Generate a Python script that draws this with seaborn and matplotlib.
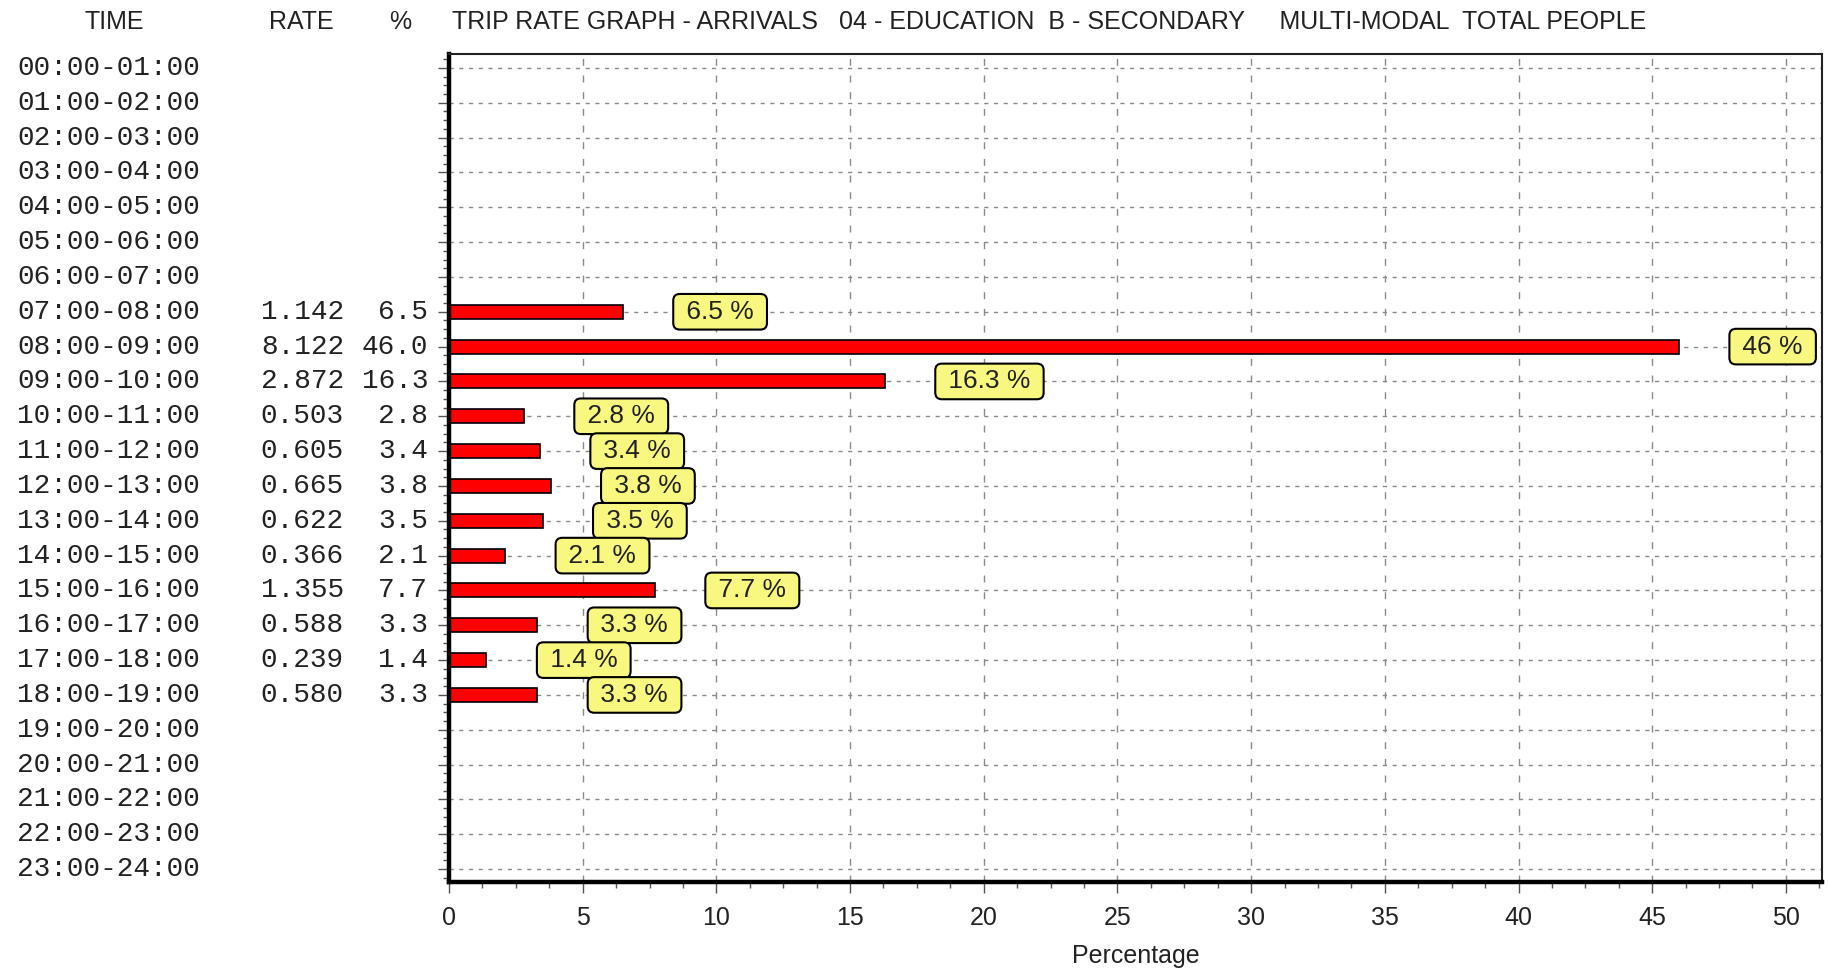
import numpy as np
import matplotlib
matplotlib.use("Agg")
import matplotlib.pyplot as plt
from matplotlib.ticker import MultipleLocator
import pandas as pd
import seaborn as sns

# hourly slots shown on the chart
times = ['%02d:00-%02d:00' % (h, h + 1) for h in range(24)]

# slots that have data
data_times = ['07:00-08:00', '08:00-09:00', '09:00-10:00', '10:00-11:00',
              '11:00-12:00', '12:00-13:00', '13:00-14:00', '14:00-15:00',
              '15:00-16:00', '16:00-17:00', '17:00-18:00', '18:00-19:00']
rates = [1.142, 8.122, 2.872, 0.503, 0.605, 0.665, 0.622, 0.366,
         1.355, 0.588, 0.239, 0.580]
percents = [6.5, 46.0, 16.3, 2.8, 3.4, 3.8, 3.5, 2.1, 7.7, 3.3, 1.4, 3.3]

title = ('TRIP RATE GRAPH - ARRIVALS   04 - EDUCATION  B - SECONDARY'
         '     MULTI-MODAL  TOTAL PEOPLE')

MONO = 'Liberation Mono'
SANS = ['Liberation Sans']

W, H = 1828, 968


def main():
    sns.set_style('white')
    plt.rcParams['font.family'] = SANS

    df = pd.DataFrame({'time': data_times, 'rate': rates, 'pct': percents})

    fig = plt.figure(figsize=(W / 100, H / 100), dpi=100)
    ax = fig.add_axes([449 / W, 1 - 882 / H, (1822 - 449) / W, (882 - 54) / H])

    sns.barplot(data=df, x='pct', y='time', order=times, orient='h',
                color='#FF0000', saturation=1, edgecolor='black',
                linewidth=1.2, width=0.4, ax=ax)

    ax.set_xlim(0, 51.35)
    ax.set_ylim(23.37, -0.40)

    # grid
    ax.set_axisbelow(True)
    ax.xaxis.set_major_locator(MultipleLocator(5))
    ax.xaxis.set_minor_locator(MultipleLocator(1.25))
    ax.yaxis.set_minor_locator(MultipleLocator(0.25))
    ax.grid(True, axis='x', which='major', color='#8a8a8a',
            linestyle=(0, (5, 7)), linewidth=1)
    ax.grid(True, axis='y', which='major', color='#8a8a8a',
            linestyle=(0, (3, 4)), linewidth=1)

    # spines
    for s in ['left', 'bottom']:
        ax.spines[s].set_linewidth(3.2)
        ax.spines[s].set_color('black')
    for s in ['top', 'right']:
        ax.spines[s].set_linewidth(1.5)
        ax.spines[s].set_color('#222222')

    # ticks
    ax.tick_params(axis='both', which='major', direction='out', length=8,
                   width=1, color='#555555', left=True, bottom=True)
    ax.tick_params(axis='both', which='minor', direction='out', length=4,
                   width=1, color='#555555', left=True, bottom=True)
    ax.tick_params(axis='x', which='major', labelsize=18, pad=9,
                   labelcolor='#222222')
    ax.tick_params(axis='y', which='major', labelsize=20, pad=7,
                   labelcolor='#222222')

    pct_col = []
    for t in times:
        if t in data_times:
            pct_col.append('%.1f' % percents[data_times.index(t)])
        else:
            pct_col.append('')
    ax.set_yticks(range(len(times)))
    ax.set_yticklabels(pct_col, family=MONO, va='center')
    ax.set_ylabel('')
    ax.set_xlabel('Percentage', fontsize=18, labelpad=10, color='#222222')

    # time and rate columns
    tr = ax.get_yaxis_transform()
    for i, t in enumerate(times):
        ax.text(-0.3146, i, t, transform=tr, ha='left', va='center',
                family=MONO, fontsize=20, color='#222222')
    for t, r in zip(data_times, rates):
        ax.text(-0.0765, times.index(t), '%.3f' % r, transform=tr,
                ha='right', va='center', family=MONO, fontsize=20,
                color='#222222')

    # value boxes
    for t, p in zip(data_times, percents):
        ax.annotate(' %g %% ' % p, xy=(p, times.index(t)),
                    xytext=(40.5, 0), textcoords='offset points',
                    ha='left', va='center', fontsize=19, color='#222222',
                    bbox=dict(boxstyle='round,pad=0.22,rounding_size=0.25',
                              facecolor='#F8F880', edgecolor='black',
                              linewidth=1.5))

    # header row
    y_head = 1 - 22 / H
    fig.text(114 / W, y_head, 'TIME', ha='center', va='center', fontsize=18,
             color='#222222')
    fig.text(301 / W, y_head, 'RATE', ha='center', va='center', fontsize=18,
             color='#222222')
    fig.text(400 / W, y_head, '%', ha='center', va='center', fontsize=18,
             color='#222222')
    fig.text(452 / W, y_head, title, ha='left', va='center', fontsize=18,
             color='#222222')

    fig.savefig('out.png', dpi=100)


if __name__ == "__main__":
    main()
